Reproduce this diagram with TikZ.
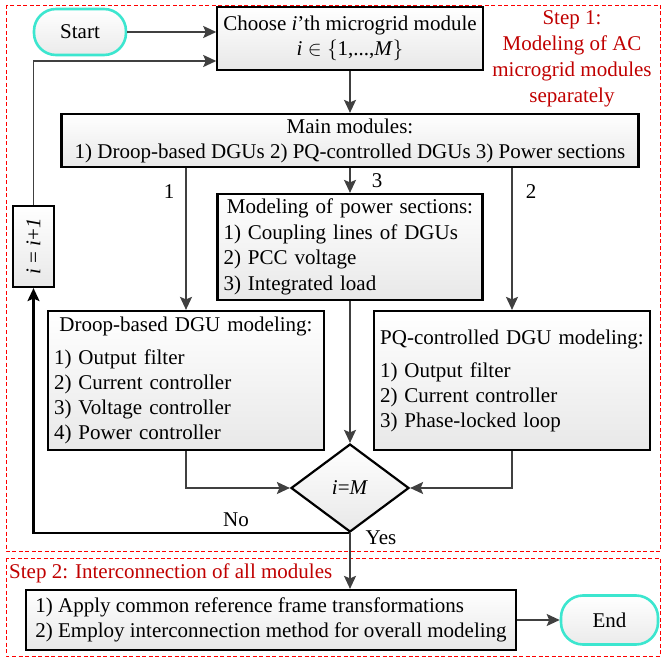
\documentclass[tikz,border=0pt]{standalone}
\usepackage{graphicx}
\usepackage{fontspec}
\setmainfont{Liberation Serif}
\usetikzlibrary{shapes.geometric,arrows.meta}
\definecolor{arrgray}{HTML}{404040}
\definecolor{stepred}{HTML}{C00000}
\definecolor{termcyan}{HTML}{3CE6CF}
\begin{document}
\begin{tikzpicture}[x=1pt,y=-1pt,
  every node/.style={font=\fontsize{21}{25}\selectfont, inner sep=0pt},
  boxnode/.style={draw=black, line width=2.2pt, top color=white, bottom color=black!9, inner xsep=6pt},
  term/.style={draw=termcyan, line width=2.6pt, rounded corners=22pt, top color=white, bottom color=black!8, minimum width=92pt, minimum height=46pt},
  tip/.style={-{Stealth[length=13pt,width=12pt,inset=2.5pt]}},
  flow/.style={draw=arrgray, line width=1.8pt, tip},
  backflow/.style={draw=black, line width=2.2pt, tip},
  stepframe/.style={draw=red, line width=0.8pt, dash pattern=on 4pt off 2.5pt},
  steptext/.style={text=stepred, align=center}
]
\useasboundingbox (0,0) rectangle (661,660);
\draw[stepframe] (6,5) rectangle (660,551);
\draw[stepframe] (6,558) rectangle (660,656);

\node[term] (start) at (80,32) {Start};
\node[boxnode, minimum width=262pt, minimum height=63pt, align=center] (choose) at (350,38.5)
  {Choose \textit{i}'th microgrid module\\ \textit{i} $\in\bigl\{$1,...,\textit{M}$\bigr\}$};
\node[steptext, font=\fontsize{21}{26}\selectfont] (st1) at (572,59)
  {Step 1:\\Modeling of AC\\microgrid modules\\separately};
\node[boxnode, minimum width=577pt, minimum height=53pt, align=center] (main) at (350,140.5)
  {Main modules:\\ 1) Droop-based DGUs 2) PQ-controlled DGUs 3) Power sections};
\node[boxnode, text width=253pt, minimum height=106pt, align=left] (power) at (350,247)
  {\makebox[253pt]{Modeling of power sections:}\\[0.5pt] 1) Coupling lines of DGUs\\[0.5pt] 2) PCC voltage\\[0.5pt] 3) Integrated load};
\node[boxnode, text width=264pt, minimum height=139pt, align=left] (droop) at (186,380.5)
  {\makebox[264pt]{Droop-based DGU modeling:}\\[8pt] 1) Output filter\\ 2) Current controller\\ 3) Voltage controller\\ 4) Power controller};
\node[boxnode, text width=264pt, minimum height=139pt, align=left] (pq) at (512,380.5)
  {\makebox[264pt]{PQ-controlled DGU modeling:}\\[8pt] 1) Output filter\\ 2) Current controller\\ 3) Phase-locked loop};
\node[draw=black, line width=2.2pt, diamond, aspect=1.34, minimum width=118pt, minimum height=88pt,
  top color=white, bottom color=black!9] (dec) at (350,488) {\textit{i}=\textit{M}};
\node[boxnode, inner xsep=0pt, minimum width=41pt, minimum height=81pt] (inc) at (33.5,246.5)
  {\rotatebox{90}{\textit{i} = \textit{i}+\textit{1}}};
\node[text=stepred, anchor=west] (st2) at (9,573) {Step 2: Interconnection of all modules};
\node[boxnode, inner xsep=0pt, minimum width=490pt, minimum height=60pt, align=left] (s2) at (271,620)
  {1) Apply common reference frame transformations\\ 2) Employ interconnection method for overall modeling};
\node[term, minimum width=97pt, minimum height=49pt] (end) at (609.5,620) {End};

\node (l1) at (169,192) {1};
\node (l2) at (531,192) {2};
\node (l3) at (377,181) {3};
\node (lno) at (236,520) {No};
\node (lyes) at (381,538) {Yes};

\draw[flow] (start.east) -- (start.east -| choose.west);
\draw[flow] (choose) -- (main);
\draw[flow] (main.south -| droop.north) -- (droop.north);
\draw[flow] (main) -- (power);
\draw[flow] (main.south -| pq.north) -- (pq.north);
\draw[flow] (power) -- (dec);
\draw[flow] (droop.south) |- (dec.west);
\draw[flow] (pq.south) |- (dec.east);
\draw[backflow] (dec.south) -| (inc.south);
\draw[flow] (inc.north) |- ([yshift=-22.5pt]choose.west);
\draw[flow] (dec.south) -- (dec.south |- s2.north);
\draw[flow] (s2.east |- end.west) -- (end.west);
\end{tikzpicture}
\end{document}
